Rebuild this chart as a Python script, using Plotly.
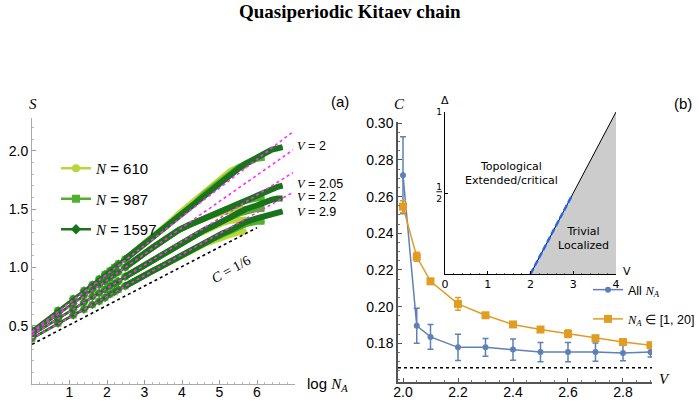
import numpy as np
import plotly.graph_objects as go

W, H = 699, 402
def px(x): return x / W
def py(y): return 1 - y / H

# ---------------- Panel (a) data ----------------
NA_1597 = [1, 2, 3, 4, 5, 6, 7, 8, 9, 10, 12, 14, 17, 20, 25, 30, 40, 50, 65, 80,
           100, 130, 160, 200, 250, 300, 400, 500, 600, 700, 798]
S_V2_1597 = [0.46, 0.63, 0.73, 0.80, 0.85, 0.90, 0.94, 0.97, 1.00, 1.03, 1.07, 1.11, 1.16, 1.20, 1.25,
             1.30, 1.37, 1.43, 1.50, 1.56, 1.62, 1.69, 1.74, 1.80, 1.85, 1.89, 1.94, 1.98, 2.01, 2.02, 2.03]
S_V205_1597 = [0.44, 0.60, 0.69, 0.76, 0.81, 0.85, 0.88, 0.91, 0.94, 0.96, 1.00, 1.04, 1.08, 1.12, 1.17,
               1.21, 1.27, 1.32, 1.36, 1.39, 1.42, 1.46, 1.49, 1.52, 1.55, 1.58, 1.62, 1.65, 1.67, 1.69, 1.70]
S_V22_1597 = [0.42, 0.56, 0.64, 0.70, 0.75, 0.78, 0.81, 0.84, 0.86, 0.88, 0.92, 0.95, 0.99, 1.02, 1.06,
              1.10, 1.15, 1.19, 1.24, 1.28, 1.32, 1.36, 1.40, 1.43, 1.47, 1.50, 1.53, 1.56, 1.58, 1.59, 1.59]
S_V29_1597 = [0.39, 0.52, 0.59, 0.64, 0.68, 0.71, 0.74, 0.77, 0.79, 0.81, 0.84, 0.87, 0.90, 0.93, 0.97,
              1.00, 1.05, 1.09, 1.14, 1.17, 1.21, 1.25, 1.29, 1.32, 1.36, 1.39, 1.42, 1.44, 1.46, 1.47, 1.48]

NA_987 = [1, 2, 3, 4, 5, 6, 7, 8, 9, 10, 12, 14, 17, 20, 25, 30, 40, 50, 65, 80,
          100, 130, 160, 200, 250, 300, 400, 493]
S_V2_987 = [0.46, 0.63, 0.73, 0.80, 0.85, 0.90, 0.94, 0.97, 1.00, 1.03, 1.07, 1.11, 1.16, 1.20, 1.25,
            1.30, 1.37, 1.43, 1.50, 1.56, 1.63, 1.70, 1.75, 1.81, 1.86, 1.89, 1.93, 1.94]
S_V205_987 = [0.44, 0.60, 0.69, 0.76, 0.81, 0.85, 0.88, 0.91, 0.94, 0.96, 1.00, 1.04, 1.08, 1.12, 1.17,
              1.21, 1.27, 1.32, 1.36, 1.39, 1.42, 1.46, 1.49, 1.52, 1.55, 1.57, 1.59, 1.59]
S_V22_987 = [0.42, 0.56, 0.64, 0.70, 0.75, 0.78, 0.81, 0.84, 0.86, 0.88, 0.92, 0.95, 0.99, 1.02, 1.06,
             1.10, 1.15, 1.19, 1.24, 1.28, 1.32, 1.36, 1.40, 1.43, 1.46, 1.48, 1.50, 1.50]
S_V29_987 = [0.39, 0.52, 0.59, 0.64, 0.68, 0.71, 0.74, 0.77, 0.79, 0.81, 0.84, 0.87, 0.90, 0.93, 0.97,
             1.00, 1.05, 1.09, 1.14, 1.17, 1.21, 1.25, 1.28, 1.31, 1.34, 1.37, 1.39, 1.39]

NA_610 = [1, 2, 3, 4, 5, 6, 7, 8, 9, 10, 12, 14, 17, 20, 25, 30, 40, 50, 65, 80,
          100, 130, 160, 200, 250, 305]
S_V2_610 = [0.46, 0.63, 0.73, 0.80, 0.85, 0.90, 0.94, 0.97, 1.00, 1.03, 1.07, 1.11, 1.16, 1.20, 1.26,
            1.31, 1.39, 1.46, 1.53, 1.59, 1.66, 1.73, 1.78, 1.83, 1.86, 1.87]
S_V205_610 = [0.44, 0.60, 0.69, 0.76, 0.81, 0.85, 0.88, 0.91, 0.94, 0.96, 1.00, 1.04, 1.08, 1.12, 1.17,
              1.21, 1.27, 1.32, 1.36, 1.39, 1.42, 1.45, 1.47, 1.49, 1.50, 1.50]
S_V22_610 = [0.42, 0.56, 0.64, 0.70, 0.75, 0.78, 0.81, 0.84, 0.86, 0.88, 0.92, 0.95, 0.99, 1.02, 1.06,
             1.10, 1.15, 1.19, 1.24, 1.28, 1.31, 1.35, 1.38, 1.40, 1.41, 1.41]
S_V29_610 = [0.39, 0.52, 0.59, 0.64, 0.68, 0.71, 0.74, 0.77, 0.79, 0.81, 0.84, 0.87, 0.90, 0.93, 0.97,
             1.00, 1.05, 1.09, 1.13, 1.16, 1.20, 1.23, 1.26, 1.28, 1.30, 1.31]

V_labels_a = ["2", "2.05", "2.2", "2.9"]
fit_intercept = [0.45, 0.44, 0.42, 0.39]
fit_slope = [0.246, 0.225, 0.200, 0.180]
fit_x_range = [0.0, 6.96]
ref_C = 1 / 6
ref_intercept = 0.34
ref_x_range = [0.0, 6.0]
V_label_S = [2.04, 1.715, 1.60, 1.475]

# ---------------- Panel (b) data ----------------
V_b = [2.0, 2.05, 2.1, 2.2, 2.3, 2.4, 2.5, 2.6, 2.7, 2.8, 2.9]
C_all = [0.2717, 0.1896, 0.1835, 0.1778, 0.1778, 0.1766, 0.1752, 0.1752, 0.1752, 0.1747, 0.1753]
C_all_err = [0.021, 0.0095, 0.0068, 0.0072, 0.0048, 0.0058, 0.0053, 0.0053, 0.0050, 0.0042, 0.0028]
C_small = [0.2545, 0.2272, 0.2138, 0.2015, 0.1953, 0.1903, 0.1875, 0.1852, 0.1828, 0.1807, 0.1790]
C_small_err = [0.0033, 0.0025, 0.0010, 0.0035, 0.0010, 0.0010, 0.0010, 0.0020, 0.0010, 0.0010, 0.0010]

# inset phase diagram
boundary_V = [2.0, 4.0]
boundary_D = [0.0, 1.0]
critical_V = [2.0, 2.95]
critical_D = [0.0, 0.475]

GREENS = {"610": "#b8d73a", "987": "#52b02c", "1597": "#1b741d"}
SYMB = {"610": "circle", "987": "square", "1597": "diamond"}
BLUE = "#5e81b5"
ORANGE = "#e19c24"
MAG = "#ff2bff"

fig = go.Figure()

series = {
    "610": (NA_610, [S_V2_610, S_V205_610, S_V22_610, S_V29_610]),
    "987": (NA_987, [S_V2_987, S_V205_987, S_V22_987, S_V29_987]),
    "1597": (NA_1597, [S_V2_1597, S_V205_1597, S_V22_1597, S_V29_1597]),
}

serif = "Liberation Serif"
def nlabel(n):
    return f"<span style='font-family:{serif}'><i>N</i></span> = {n}"

for n, (NA, Slist) in series.items():
    NA_arr = np.array(NA)
    x = np.log(NA_arr)
    col = GREENS[n]
    sizes = np.where(NA_arr <= 12, 7, 0)
    for i, S in enumerate(Slist):
        S = np.array(S)
        m = NA_arr >= 12
        fig.add_trace(go.Scatter(x=x[m], y=S[m], mode="lines", line=dict(color=col, width=6),
                                 xaxis="x", yaxis="y", showlegend=False, hoverinfo="skip",
                                 legend="legend", legendgroup=n))
        fig.add_trace(go.Scatter(x=x, y=S, mode="lines+markers",
                                 line=dict(color=col, width=2.5),
                                 marker=dict(symbol=SYMB[n], size=list(sizes), color=col, line=dict(width=0)),
                                 xaxis="x", yaxis="y", name=nlabel(n),
                                 legend="legend", legendgroup=n, showlegend=False))
    fig.add_trace(go.Scatter(x=[None], y=[None], mode="lines+markers",
                             line=dict(color=col, width=2.5),
                             marker=dict(symbol=SYMB[n], size=8, color=col),
                             xaxis="x", yaxis="y", name=nlabel(n),
                             legend="legend", legendgroup=n, showlegend=True))

for a, b in zip(fit_intercept, fit_slope):
    xs = np.array(fit_x_range)
    fig.add_trace(go.Scatter(x=xs, y=a + b * xs, mode="lines",
                             line=dict(color=MAG, width=1.6, dash="3px,3px"),
                             xaxis="x", yaxis="y", showlegend=False, hoverinfo="skip"))
xs = np.array(ref_x_range)
fig.add_trace(go.Scatter(x=xs, y=ref_intercept + ref_C * xs, mode="lines",
                         line=dict(color="black", width=1.6, dash="3px,3px"),
                         xaxis="x", yaxis="y", showlegend=False, hoverinfo="skip"))

# ---------------- Panel (b) traces ----------------
na_lab = f"<span style='font-family:{serif}'><i>N<sub>A</sub></i></span>"
fig.add_trace(go.Scatter(x=V_b, y=C_all, mode="lines+markers",
                         line=dict(color=BLUE, width=1.5),
                         marker=dict(symbol="circle", size=6, color=BLUE),
                         error_y=dict(type="data", array=C_all_err, color=BLUE, thickness=1.5, width=3),
                         xaxis="x2", yaxis="y2", legend="legend2", legendgroup="all",
                         name="All " + na_lab))
fig.add_trace(go.Scatter(x=V_b, y=C_small, mode="lines+markers",
                         line=dict(color=ORANGE, width=1.5),
                         marker=dict(symbol="square", size=8, color=ORANGE),
                         error_y=dict(type="data", array=C_small_err, color=ORANGE, thickness=1.5, width=3),
                         xaxis="x2", yaxis="y2", legend="legend2", legendgroup="small",
                         name=na_lab + " ∈ [1, 20]"))

# inset
fig.add_trace(go.Scatter(x=boundary_V + [boundary_V[1]], y=boundary_D + [0.0], mode="lines",
                         fill="toself", fillcolor="#cccccc", line=dict(width=0),
                         xaxis="x3", yaxis="y3", showlegend=False, hoverinfo="skip"))
fig.add_trace(go.Scatter(x=boundary_V, y=boundary_D, mode="lines", line=dict(color="black", width=1),
                         xaxis="x3", yaxis="y3", showlegend=False, hoverinfo="skip"))
fig.add_trace(go.Scatter(x=critical_V, y=critical_D, mode="lines",
                         line=dict(color="#2266ee", width=2.5, dash="6px,3px"),
                         xaxis="x3", yaxis="y3", showlegend=False, hoverinfo="skip"))

tickfont = dict(family="Liberation Sans", size=14, color="black")
common = dict(showgrid=False, zeroline=False, showline=True, ticks="inside", mirror=False)

fig.update_layout(
    width=W, height=H, margin=dict(l=0, r=0, t=0, b=0, autoexpand=False),
    paper_bgcolor="white", plot_bgcolor="rgba(0,0,0,0)",
    xaxis=dict(domain=[px(32), px(294.5)], range=[0, 7.0], anchor="y",
               tickvals=[1, 2, 3, 4, 5, 6], ticklen=4, tickcolor="#999", linecolor="#aaa", linewidth=1,
               minor=dict(dtick=0.2, ticklen=2, tickcolor="#bbb", ticks="inside"),
               ticklabelstandoff=-5, tickfont=tickfont, **common),
    yaxis=dict(domain=[py(384), py(118)], range=[0, 2.28], anchor="x",
               tickvals=[0.5, 1.0, 1.5, 2.0], ticktext=["0.5", "1.0", "1.5", "2.0"],
               ticklen=4, tickcolor="#999", linecolor="#aaa", linewidth=1,
               minor=dict(dtick=0.1, ticklen=2, tickcolor="#bbb", ticks="inside"),
               tickfont=tickfont, **common),
    xaxis2=dict(domain=[px(398), px(652)], range=[1.9818, 2.9055], anchor="y2",
                tickvals=[2.0, 2.2, 2.4, 2.6, 2.8], ticktext=["2.0", "2.2", "2.4", "2.6", "2.8"],
                ticklen=4, tickcolor="#555", linecolor="#555", linewidth=1.5,
                minor=dict(dtick=0.05, tick0=2.0, ticklen=2, tickcolor="#777", ticks="inside"),
                ticklabelstandoff=-4, tickfont=tickfont, **common),
    yaxis2=dict(domain=[py(382), py(122)], range=[0.1589, 0.3007], anchor="x2",
                tickvals=[0.18, 0.20, 0.22, 0.24, 0.26, 0.28, 0.30],
                ticktext=["0.18", "0.20", "0.22", "0.24", "0.26", "0.28", "0.30"],
                ticklen=4, tickcolor="#555", linecolor="#555", linewidth=1.5,
                minor=dict(dtick=0.005, tick0=0.16, ticklen=2, tickcolor="#777", ticks="inside"),
                tickfont=tickfont, **common),
    xaxis3=dict(domain=[px(445), px(616)], range=[0, 4], anchor="y3",
                tickvals=[0, 1, 2, 3, 4], ticklen=3, tickcolor="black", linecolor="black", linewidth=1,
                minor=dict(dtick=0.2, ticklen=1.5, tickcolor="#666", ticks="inside"),
                tickfont=dict(family="DejaVu Sans", size=11, color="black"), **common),
    yaxis3=dict(domain=[py(274), py(112)], range=[0, 1], anchor="x3",
                tickvals=[0.5, 1.0], ticktext=["<u>1</u><br>2", "1"], ticklen=3, tickcolor="black",
                linecolor="black", linewidth=1.2,
                tickfont=dict(family="DejaVu Sans", size=9, color="black"), **common),
    legend=dict(x=px(56), y=py(152), xanchor="left", yanchor="top", bgcolor="rgba(0,0,0,0)",
                font=dict(family="Liberation Sans", size=15, color="black"), tracegroupgap=8,
                itemwidth=30, traceorder="grouped"),
    legend2=dict(x=px(588), y=py(275), xanchor="left", yanchor="top", bgcolor="rgba(0,0,0,0)",
                 font=dict(family="Liberation Sans", size=12.5, color="black"), tracegroupgap=10,
                 itemwidth=30, traceorder="grouped"),
    showlegend=True,
)

fig.add_shape(type="line", xref="x2 domain", yref="y2", x0=0, x1=1, y0=ref_C, y1=ref_C,
              line=dict(color="black", width=1.5, dash="3px,3px"))

def pann(text, x, y, size, family, xanchor="center", **kw):
    return dict(text=text, x=px(x), y=py(y), xref="paper", yref="paper", xanchor=xanchor,
                yanchor="middle", showarrow=False, font=dict(family=family, size=size, color="black"), **kw)

ann = []
ann.append(pann("<b>Quasiperiodic Kitaev chain</b>", 350, 12, 19, serif))
ann.append(pann("<i>S</i>", 33, 104, 15, serif))
ann.append(pann("log " + na_lab, 305, 384, 15, "Liberation Sans", xanchor="left"))
ann.append(pann("(a)", 340, 101, 15, "Liberation Sans"))
ann.append(pann("(b)", 683, 103, 15, "Liberation Sans"))
ann.append(pann("<i>C</i>", 399, 104, 15, serif))
ann.append(pann("<i>V</i>", 664, 379, 15, serif))
for lab, s in zip(V_labels_a, V_label_S):
    ann.append(dict(text=f"<span style='font-family:{serif}'><i>V</i></span> = {lab}",
                    x=7.0, y=s, xref="x", yref="y", xanchor="left", yanchor="middle", showarrow=False,
                    font=dict(family="Liberation Sans", size=12.5, color="black")))
ann.append(dict(text="<i>C</i> = 1/6", x=5.3, y=0.98, xref="x", yref="y", showarrow=False, textangle=-29,
                xanchor="center", yanchor="middle", font=dict(family=serif, size=14, color="black")))
# inset labels
ann.append(dict(text="Δ", x=0, y=1.0, xref="x3", yref="y3", yshift=12, showarrow=False,
                xanchor="center", yanchor="middle", font=dict(family="DejaVu Sans", size=11, color="black")))
ann.append(dict(text="V", x=4.0, y=0, xref="x3", yref="y3", xshift=11, yshift=3, showarrow=False,
                xanchor="center", yanchor="middle", font=dict(family="DejaVu Sans", size=11, color="black")))
ann.append(dict(text="Topological<br>Extended/critical", x=1.55, y=0.62, xref="x3", yref="y3", showarrow=False,
                xanchor="center", yanchor="middle", font=dict(family="DejaVu Sans", size=11, color="black")))
ann.append(dict(text="Trivial<br>Localized", x=3.25, y=0.22, xref="x3", yref="y3", showarrow=False,
                xanchor="center", yanchor="middle", font=dict(family="DejaVu Sans", size=11, color="black")))
fig.update_layout(annotations=ann)

fig.write_html("out.html")
